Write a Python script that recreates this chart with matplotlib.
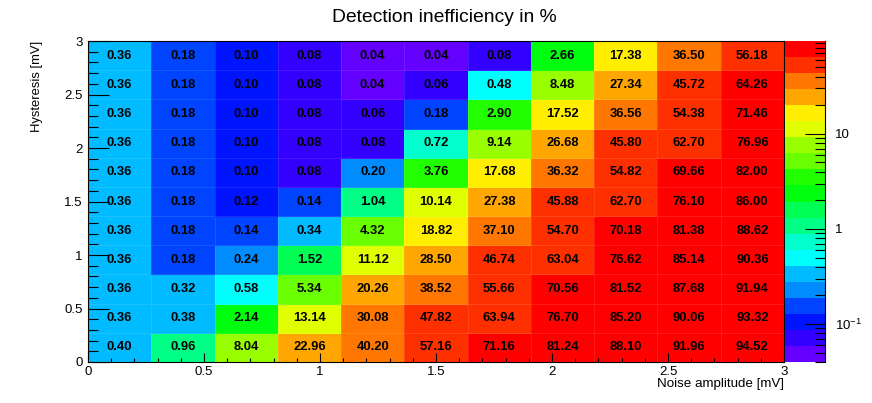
import colorsys
import numpy as np
import matplotlib
matplotlib.use("Agg")
import matplotlib.pyplot as plt
from matplotlib.colors import ListedColormap, LogNorm
from matplotlib.ticker import FixedLocator, MultipleLocator, NullFormatter

plt.rcParams['font.family'] = ['Liberation Sans', 'DejaVu Sans']
plt.rcParams['mathtext.fontset'] = 'custom'
plt.rcParams['mathtext.rm'] = 'Liberation Sans'

# Data: rows listed from bottom (y bin 1) to top (y bin 11)
x_edges_max = 3.0
y_edges_max = 3.0
n_x = 11
n_y = 11
values = [
    [0.40, 0.96, 8.04, 22.96, 40.20, 57.16, 71.16, 81.24, 88.10, 91.96, 94.52],
    [0.36, 0.38, 2.14, 13.14, 30.08, 47.82, 63.94, 76.70, 85.20, 90.06, 93.32],
    [0.36, 0.32, 0.58, 5.34, 20.26, 38.52, 55.66, 70.56, 81.52, 87.68, 91.94],
    [0.36, 0.18, 0.24, 1.52, 11.12, 28.50, 46.74, 63.04, 76.62, 85.14, 90.36],
    [0.36, 0.18, 0.14, 0.34, 4.32, 18.82, 37.10, 54.70, 70.18, 81.38, 88.62],
    [0.36, 0.18, 0.12, 0.14, 1.04, 10.14, 27.38, 45.88, 62.70, 76.10, 86.00],
    [0.36, 0.18, 0.10, 0.08, 0.20, 3.76, 17.68, 36.32, 54.82, 69.66, 82.00],
    [0.36, 0.18, 0.10, 0.08, 0.08, 0.72, 9.14, 26.68, 45.80, 62.70, 76.96],
    [0.36, 0.18, 0.10, 0.08, 0.06, 0.18, 2.90, 17.52, 36.56, 54.38, 71.46],
    [0.36, 0.18, 0.10, 0.08, 0.04, 0.06, 0.48, 8.48, 27.34, 45.72, 64.26],
    [0.36, 0.18, 0.10, 0.08, 0.04, 0.04, 0.08, 2.66, 17.38, 36.50, 56.18],
]
title = "Detection inefficiency in %"
xlabel = "Noise amplitude [mV]"
ylabel = "Hysteresis [mV]"
cbar_ticks = [0.1, 1, 10]
cbar_ticklabels = [r"$\mathregular{10^{-1}}$", "1", "10"]

Z = np.array(values)
zmin, zmax = Z.min(), Z.max()

# ROOT "pretty palette" (palette 1): 50 colours, hue 280 -> 0, 20 contours
pal = []
for i in range(49):
    hue = 280 - (i + 1) * (280 / 50)
    pal.append(colorsys.hls_to_rgb(hue / 360.0, 0.5, 1.0))
pal.append((1.0, 0.0, 0.0))
ndivz = 20
band_colors = [pal[int((j + 0.99) * 50 / ndivz)] for j in range(ndivz)]
cmap = ListedColormap(band_colors)
norm = LogNorm(vmin=zmin, vmax=zmax)

W, H = 872, 403
fig = plt.figure(figsize=(W / 100, H / 100), dpi=100)
L, R, T, B = 88, 784, 41, 362
ax = fig.add_axes([L / W, 1 - B / H, (R - L) / W, (B - T) / H])

xe = np.linspace(0, x_edges_max, n_x + 1)
ye = np.linspace(0, y_edges_max, n_y + 1)
mesh = ax.pcolormesh(xe, ye, Z, cmap=cmap, norm=norm,
                     edgecolors=(1, 1, 1, 0.10), linewidth=0.5)

xc = 0.5 * (xe[:-1] + xe[1:])
yc = 0.5 * (ye[:-1] + ye[1:])
for iy in range(n_y):
    for ix in range(n_x):
        ax.text(xc[ix], yc[iy], f"{Z[iy, ix]:.2f}", ha='center', va='center',
                fontsize=9.4, fontweight='bold', color='black')

ax.set_xlim(0, 3)
ax.set_ylim(0, 3)
ax.xaxis.set_minor_locator(MultipleLocator(0.1))
ax.yaxis.set_minor_locator(MultipleLocator(0.1))
ax.set_xticks([0, 0.5, 1, 1.5, 2, 2.5, 3])
ax.set_xticklabels(["0", "0.5", "1", "1.5", "2", "2.5", "3"])
ax.set_yticks([0, 0.5, 1, 1.5, 2, 2.5, 3])
ax.set_yticklabels(["0", "0.5", "1", "1.5", "2", "2.5", "3"])
ax.tick_params(axis='x', which='major', direction='in', length=6.3, width=0.8,
               labelsize=9.5, pad=3)
ax.tick_params(axis='x', which='minor', direction='in', length=3.2, width=0.8)
ax.tick_params(axis='y', which='major', direction='in', length=15, width=0.8,
               labelsize=9.5, pad=4)
ax.tick_params(axis='y', which='minor', direction='in', length=7.2, width=0.8)
for s in ax.spines.values():
    s.set_linewidth(0.8)

fig.text(R / W, 1 - 384 / H, xlabel, ha='right', va='center', fontsize=9.6)
fig.text(37 / W, 1 - T / H, ylabel, ha='center', va='top', rotation=90, fontsize=9.4)
fig.text(444 / W, 1 - 18 / H, title, ha='center', va='center', fontsize=13.9)

cax = fig.add_axes([785 / W, 1 - B / H, 40 / W, (B - T) / H])
cb = fig.colorbar(mesh, cax=cax)
cb.outline.set_visible(False)
cax.plot([1, 1], [0, 1], transform=cax.transAxes, color='black', lw=0.8, clip_on=False)
cax.yaxis.set_major_locator(FixedLocator(cbar_ticks))
cax.set_yticklabels(cbar_ticklabels)
minor = [m * 10.0 ** e for e in (-2, -1, 0, 1) for m in range(2, 10)]
minor = [v for v in minor if zmin <= v <= zmax]
cax.yaxis.set_minor_locator(FixedLocator(minor))
cax.yaxis.set_minor_formatter(NullFormatter())
cax.tick_params(axis='y', which='major', direction='in', length=14.4, width=0.8,
                labelsize=9.5, pad=7)
cax.tick_params(axis='y', which='minor', direction='in', length=7.2, width=0.8)

fig.savefig("out.png", dpi=100)
